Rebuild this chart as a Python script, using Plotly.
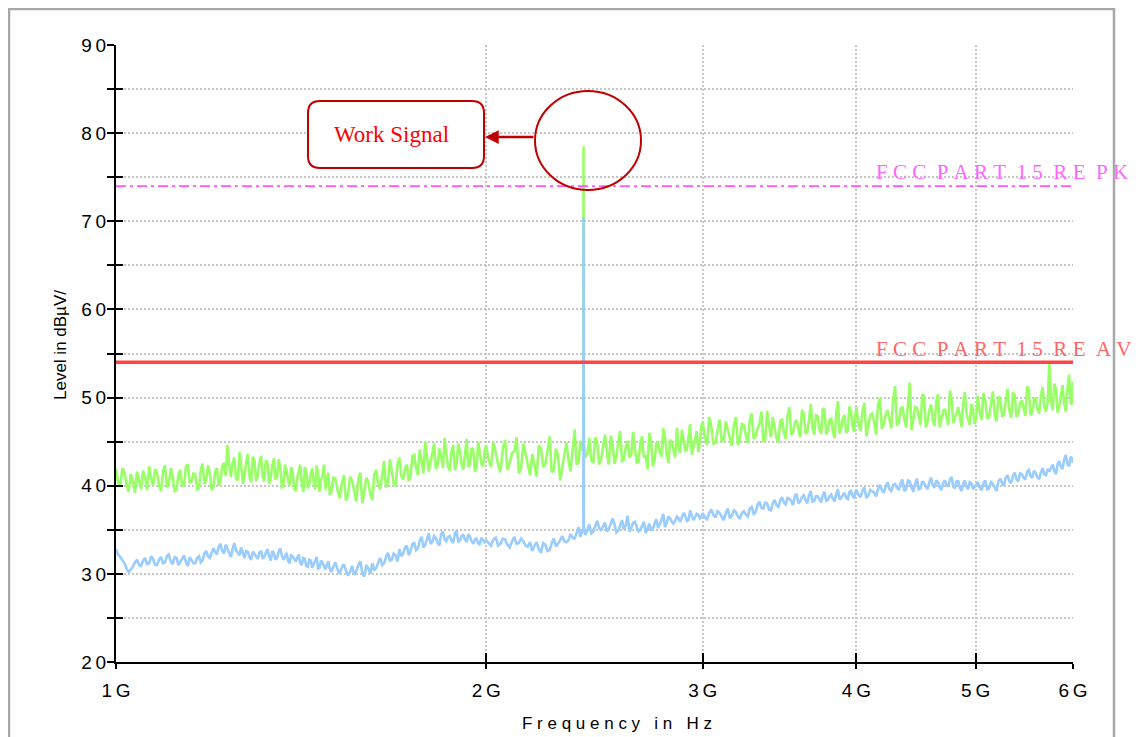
import math
import plotly.graph_objects as go

# ---------------- data (frequencies in GHz, levels in dBuV/m) ----------------
freq_a = [1.000, 1.008, 1.016, 1.024, 1.032, 1.040, 1.048, 1.056, 1.064, 1.072,
          1.080, 1.088, 1.096, 1.104, 1.112, 1.120, 1.128, 1.136, 1.144, 1.152,
          1.160, 1.168, 1.176, 1.184, 1.192, 1.200, 1.208, 1.216, 1.224, 1.232,
          1.240, 1.248, 1.256, 1.264, 1.272, 1.280, 1.288, 1.296, 1.304, 1.312,
          1.320, 1.328, 1.336, 1.344, 1.352, 1.360, 1.368, 1.376, 1.384, 1.392,
          1.400, 1.408, 1.416, 1.424, 1.432, 1.440, 1.448, 1.456, 1.464, 1.472,
          1.480, 1.488, 1.496]
freq_b = [1.508, 1.520, 1.532, 1.544, 1.556, 1.568, 1.580, 1.592, 1.604, 1.616,
          1.628, 1.640, 1.652, 1.664, 1.676, 1.688, 1.700, 1.712, 1.724, 1.736,
          1.748, 1.760, 1.772, 1.784, 1.796, 1.808, 1.820, 1.832, 1.844, 1.856,
          1.868, 1.880, 1.892, 1.904, 1.916, 1.928, 1.940, 1.952, 1.964, 1.976,
          1.988]
freq_c = [2.000, 2.018, 2.036, 2.054, 2.072, 2.090, 2.108, 2.126, 2.144, 2.162,
          2.180, 2.198, 2.216, 2.234, 2.252, 2.270, 2.288, 2.306, 2.324, 2.342,
          2.360, 2.378, 2.392, 2.399, 2.400, 2.401, 2.408, 2.426, 2.444, 2.462,
          2.480, 2.498, 2.516, 2.534, 2.552, 2.570, 2.588, 2.606, 2.624, 2.642,
          2.660, 2.678, 2.696, 2.714, 2.732, 2.750, 2.768, 2.786, 2.804, 2.822,
          2.840, 2.858, 2.876, 2.894, 2.912, 2.930, 2.948, 2.966, 2.984]
freq_d = [3.000, 3.024, 3.048, 3.072, 3.096, 3.120, 3.144, 3.168, 3.192, 3.216,
          3.240, 3.264, 3.288, 3.312, 3.336, 3.360, 3.384, 3.408, 3.432, 3.456,
          3.480, 3.504, 3.528, 3.552, 3.576, 3.600, 3.624, 3.648, 3.672, 3.696,
          3.720, 3.744, 3.768, 3.792, 3.816, 3.840, 3.864, 3.888, 3.912, 3.936,
          3.960, 3.984]
freq_e = [4.00, 4.03, 4.06, 4.09, 4.12, 4.15, 4.18, 4.21, 4.24, 4.27,
          4.30, 4.33, 4.36, 4.39, 4.42, 4.45, 4.48, 4.51, 4.54, 4.57,
          4.60, 4.63, 4.66, 4.69, 4.72, 4.75, 4.78, 4.81, 4.84, 4.87,
          4.90, 4.93, 4.96, 4.99]
freq_f = [5.020, 5.056, 5.092, 5.128, 5.164, 5.200, 5.236, 5.272, 5.308, 5.344,
          5.380, 5.416, 5.452, 5.488, 5.524, 5.560, 5.596, 5.632, 5.668, 5.704,
          5.740, 5.776, 5.812, 5.848, 5.884, 5.920, 5.956, 5.992, 6.000]

# in-between sweep points
freq_a_mid = [1.004, 1.012, 1.020, 1.028, 1.036, 1.044, 1.052, 1.060, 1.068, 1.076,
              1.084, 1.092, 1.100, 1.108, 1.116, 1.124, 1.132, 1.140, 1.148, 1.156,
              1.164, 1.172, 1.180, 1.188, 1.196, 1.204, 1.212, 1.220, 1.228, 1.236,
              1.244, 1.252, 1.260, 1.268, 1.276, 1.284, 1.292, 1.300, 1.308, 1.316,
              1.324, 1.332, 1.340, 1.348, 1.356, 1.364, 1.372, 1.380, 1.388, 1.396,
              1.404, 1.412, 1.420, 1.428, 1.436, 1.444, 1.452, 1.460, 1.468, 1.476,
              1.484, 1.492, 1.502]
freq_b_mid = [1.514, 1.526, 1.538, 1.550, 1.562, 1.574, 1.586, 1.598, 1.610, 1.622,
              1.634, 1.646, 1.658, 1.670, 1.682, 1.694, 1.706, 1.718, 1.730, 1.742,
              1.754, 1.766, 1.778, 1.790, 1.802, 1.814, 1.826, 1.838, 1.850, 1.862,
              1.874, 1.886, 1.898, 1.910, 1.922, 1.934, 1.946, 1.958, 1.970, 1.982,
              1.994]
freq_c_mid = [2.009, 2.027, 2.045, 2.063, 2.081, 2.099, 2.117, 2.135, 2.153, 2.171,
              2.189, 2.207, 2.225, 2.243, 2.261, 2.279, 2.297, 2.315, 2.333, 2.351,
              2.369, 2.385, 2.417, 2.435, 2.453, 2.471, 2.489, 2.507, 2.525, 2.543,
              2.561, 2.579, 2.597, 2.615, 2.633, 2.651, 2.669, 2.687, 2.705, 2.723,
              2.741, 2.759, 2.777, 2.795, 2.813, 2.831, 2.849, 2.867, 2.885, 2.903,
              2.921, 2.939, 2.957, 2.975, 2.992]
freq_d_mid = [3.012, 3.036, 3.060, 3.084, 3.108, 3.132, 3.156, 3.180, 3.204, 3.228,
              3.252, 3.276, 3.300, 3.324, 3.348, 3.372, 3.396, 3.420, 3.444, 3.468,
              3.492, 3.516, 3.540, 3.564, 3.588, 3.612, 3.636, 3.660, 3.684, 3.708,
              3.732, 3.756, 3.780, 3.804, 3.828, 3.852, 3.876, 3.900, 3.924, 3.948,
              3.972, 3.992]
freq_e_mid = [4.015, 4.045, 4.075, 4.105, 4.135, 4.165, 4.195, 4.225, 4.255, 4.285,
              4.315, 4.345, 4.375, 4.405, 4.435, 4.465, 4.495, 4.525, 4.555, 4.585,
              4.615, 4.645, 4.675, 4.705, 4.735, 4.765, 4.795, 4.825, 4.855, 4.885,
              4.915, 4.945, 4.975, 5.005]
freq_f_mid = [5.038, 5.074, 5.110, 5.146, 5.182, 5.218, 5.254, 5.290, 5.326, 5.362,
              5.398, 5.434, 5.470, 5.506, 5.542, 5.578, 5.614, 5.650, 5.686, 5.722,
              5.758, 5.794, 5.830, 5.866, 5.902, 5.938, 5.974, 5.996]

# peak detector trace (green)
peak_a = [41.9, 39.9, 41.5, 39.3, 40.7, 41.6, 39.6, 41.0, 42.2, 40.0,
          41.4, 39.4, 42.3, 40.2, 41.1, 39.5, 41.8, 40.1, 42.4, 40.5,
          41.3, 39.7, 42.5, 40.6, 41.5, 39.8, 42.0, 40.4, 42.6, 44.6,
          41.0, 43.2, 40.6, 42.4, 41.1, 43.6, 40.4, 42.8, 41.2, 43.4,
          40.5, 42.6, 40.9, 43.1, 41.0, 42.2, 39.9, 41.8, 40.0, 41.6,
          39.4, 41.9, 40.2, 42.1, 39.7, 41.3, 40.4, 42.3, 39.3, 41.0,
          39.6, 41.5, 39.2]
peak_b = [40.8, 38.6, 41.2, 39.0, 40.6, 38.2, 41.5, 39.3, 40.4, 38.4,
          41.8, 39.6, 42.8, 40.3, 41.6, 40.0, 43.2, 40.7, 42.4, 41.0,
          43.5, 41.2, 42.9, 45.0, 41.6, 43.8, 41.9, 44.2, 42.0, 43.6,
          41.7, 44.6, 42.3, 43.9, 41.8, 45.3, 42.4, 44.1, 42.0, 43.7,
          42.2]
peak_c = [44.6, 42.1, 43.8, 41.5, 45.2, 42.6, 43.9, 41.4, 44.8, 42.3,
          43.6, 41.0, 44.2, 42.5, 45.6, 41.8, 43.4, 42.2, 44.9, 41.6,
          46.4, 42.8, 44.0, 44.5, 78.5, 44.8, 43.2, 45.4, 42.6, 44.9,
          43.0, 45.8, 42.4, 44.6, 43.3, 46.2, 42.9, 45.1, 43.5, 44.4,
          42.7, 45.6, 43.4, 46.0, 42.2, 44.8, 43.8, 46.5, 43.6, 45.2,
          44.0, 46.6, 43.7, 45.3, 44.1, 47.0, 44.4, 46.2, 45.0]
peak_d = [47.2, 44.6, 46.8, 44.9, 47.5, 45.2, 46.4, 44.5, 47.8, 45.4,
          46.9, 44.8, 48.2, 45.6, 47.0, 45.1, 48.5, 45.5, 46.8, 44.9,
          47.6, 45.3, 48.9, 46.0, 47.4, 45.5, 48.2, 46.1, 49.3, 45.8,
          47.9, 45.9, 48.6, 46.3, 47.6, 45.4, 49.6, 46.5, 48.0, 46.2,
          48.4, 46.1]
peak_e = [48.9, 46.2, 49.4, 46.8, 48.2, 45.8, 50.0, 47.0, 48.6, 46.5,
          51.3, 47.2, 49.0, 46.6, 51.7, 47.4, 48.8, 46.9, 50.1, 47.3,
          49.2, 46.8, 50.4, 47.5, 48.7, 46.9, 49.8, 47.6, 48.9, 46.7,
          50.6, 47.4, 49.3, 47.0]
peak_f = [50.2, 47.5, 49.6, 47.8, 50.7, 47.3, 49.9, 48.0, 51.0, 47.7,
          50.3, 48.1, 49.7, 47.9, 50.8, 48.3, 50.0, 48.2, 51.2, 48.4,
          54.0, 48.6, 50.9, 49.0, 51.4, 48.4, 52.6, 49.2, 50.6]

peak_a_mid = [40.3, 42.0, 40.1, 41.3, 39.2, 40.4, 41.7, 39.5, 40.8, 41.9,
              40.0, 41.6, 39.8, 42.0, 39.4, 41.3, 39.9, 42.2, 40.3, 41.4,
              39.6, 41.8, 40.2, 42.3, 39.5, 41.6, 40.0, 42.2, 41.1, 42.4,
              42.6, 40.8, 43.8, 40.2, 42.7, 41.0, 43.3, 40.5, 42.5, 41.0,
              42.9, 40.2, 42.3, 40.7, 43.0, 39.8, 42.4, 40.6, 42.1, 39.7,
              40.9, 42.4, 39.3, 41.6, 40.1, 42.0, 39.6, 41.2, 40.8, 42.4,
              40.4, 39.1, 40.9]
peak_b_mid = [39.5, 40.2, 38.3, 41.0, 39.4, 40.7, 38.0, 40.9, 39.0, 41.3,
              40.1, 41.3, 39.8, 43.0, 40.2, 42.5, 41.1, 42.0, 40.5, 43.4,
              42.0, 44.1, 41.4, 43.0, 42.6, 44.8, 42.3, 43.3, 45.4, 42.2,
              43.9, 41.8, 44.8, 42.4, 43.6, 42.1, 44.3, 41.6, 45.0, 42.5,
              44.0]
peak_c_mid = [42.9, 44.9, 42.4, 44.2, 41.8, 43.7, 45.5, 42.0, 43.5, 41.2,
              42.4, 44.6, 42.1, 43.9, 41.5, 44.2, 40.6, 43.8, 42.9, 44.0,
              42.4, 45.1, 43.6, 42.9, 45.5, 42.4, 44.4, 43.8, 45.7, 42.5,
              45.0, 42.8, 44.4, 43.2, 46.1, 42.6, 44.9, 43.2, 41.9, 45.1,
              42.8, 44.9, 43.3, 45.6, 42.6, 45.0, 43.2, 44.5, 46.3, 43.9,
              45.6, 43.5, 45.3, 43.8, 46.8]
peak_d_mid = [45.5, 47.8, 44.7, 46.3, 45.0, 47.3, 45.6, 46.9, 44.6, 47.0,
              45.7, 47.4, 45.3, 46.5, 48.4, 45.2, 46.9, 47.8, 45.4, 47.3,
              46.1, 47.9, 45.8, 47.2, 46.4, 48.6, 45.9, 47.4, 46.6, 48.0,
              46.4, 48.8, 45.8, 47.5, 46.1, 48.3, 45.9, 47.7, 46.0, 49.0,
              46.6, 48.1]
peak_e_mid = [46.9, 48.4, 45.6, 48.0, 47.2, 49.3, 46.4, 48.1, 47.7, 49.8,
              46.8, 48.7, 47.6, 49.2, 46.3, 48.9, 47.9, 50.4, 46.6, 48.6,
              47.4, 49.6, 46.6, 48.5, 47.9, 50.8, 47.1, 48.3, 47.5, 49.4,
              48.2, 46.9, 48.6, 47.6]
peak_f_mid = [48.4, 50.5, 47.6, 49.3, 48.1, 50.1, 47.9, 49.6, 48.5, 50.6,
              47.8, 49.4, 48.8, 51.3, 48.0, 49.7, 48.6, 50.2, 48.9, 49.5,
              49.6, 51.6, 48.3, 50.2, 49.3, 51.0, 49.4, 51.8]

# average detector trace (blue)
avg_a = [32.8, 31.9, 31.2, 30.2, 30.8, 31.6, 30.9, 31.8, 31.2, 31.7,
         31.0, 31.9, 31.3, 32.2, 31.1, 31.8, 31.4, 32.1, 30.9, 31.6,
         31.2, 32.0, 31.5, 32.6, 31.8, 32.9, 32.2, 33.4, 32.3, 32.8,
         31.9, 33.5, 32.4, 33.0, 31.8, 32.5, 31.6, 32.2, 31.7, 32.6,
         31.9, 32.8, 31.5, 32.3, 31.8, 32.9, 31.6, 32.4, 31.2, 32.0,
         31.4, 32.2, 31.0, 31.7, 30.8, 31.5, 31.1, 31.9, 30.7, 31.3,
         30.5, 31.4, 30.2]
avg_b = [31.3, 30.0, 31.1, 29.8, 30.9, 30.3, 31.4, 29.7, 30.6, 31.2,
         30.7, 31.8, 31.2, 32.4, 31.6, 32.1, 32.8, 32.3, 33.2, 32.6,
         33.5, 32.9, 34.2, 33.3, 34.6, 33.6, 34.1, 33.2, 34.8, 33.7,
         34.3, 33.5, 34.9, 33.8, 34.4, 33.6, 34.2, 33.4, 34.0, 33.3,
         33.9]
avg_c = [33.8, 33.2, 34.1, 33.4, 33.9, 33.0, 34.2, 33.5, 33.7, 33.1,
         32.6, 33.6, 32.4, 33.3, 32.7, 34.0, 33.4, 34.3, 33.6, 34.5,
         34.0, 35.3, 34.6, 35.1, 70.5, 35.3, 34.4, 35.6, 34.8, 36.0,
         34.9, 35.8, 35.1, 36.3, 34.7, 35.5, 35.0, 36.6, 35.2, 35.9,
         34.8, 35.4, 34.6, 35.7, 35.1, 36.2, 35.6, 36.8, 35.8, 36.3,
         35.7, 36.5, 35.9, 36.9, 36.0, 37.2, 36.1, 36.8, 36.3]
avg_d = [36.9, 36.2, 37.3, 36.4, 36.9, 36.1, 37.4, 36.6, 37.0, 36.3,
         37.1, 36.5, 37.6, 37.0, 38.2, 37.4, 38.0, 37.2, 38.4, 37.6,
         38.7, 37.9, 38.5, 37.8, 39.1, 38.2, 38.9, 38.0, 39.4, 38.3,
         38.8, 38.1, 39.3, 38.4, 39.0, 38.2, 39.6, 38.7, 39.2, 38.5,
         39.4, 38.6]
avg_e = [39.5, 38.7, 39.8, 38.9, 39.4, 38.8, 40.1, 39.2, 40.4, 39.4,
         40.2, 39.5, 40.7, 39.6, 40.5, 39.3, 40.8, 39.7, 40.3, 39.6,
         40.9, 39.8, 40.4, 39.5, 40.6, 39.9, 41.0, 39.7, 40.5, 39.4,
         40.6, 39.6, 40.3, 39.8]
avg_f = [40.4, 39.5, 40.6, 39.7, 40.2, 39.4, 40.8, 40.0, 41.2, 40.3,
         41.5, 40.5, 41.3, 40.7, 41.8, 40.9, 41.4, 40.8, 42.0, 41.2,
         41.6, 42.4, 41.3, 42.8, 41.9, 43.5, 42.2, 43.0, 42.6]

avg_a_mid = [32.2, 31.5, 30.6, 30.5, 31.3, 31.0, 31.5, 31.1, 32.0, 31.0,
             31.6, 31.2, 32.0, 31.4, 31.9, 31.0, 31.8, 31.3, 31.9, 31.2,
             31.8, 31.3, 32.3, 32.0, 32.4, 32.5, 33.1, 32.6, 33.3, 32.2,
             32.8, 32.7, 32.1, 32.3, 32.6, 31.9, 32.5, 32.0, 32.4, 31.8,
             32.4, 32.0, 32.6, 31.6, 32.5, 32.1, 31.9, 31.5, 32.2, 31.7,
             31.9, 31.2, 31.8, 30.9, 31.6, 30.7, 31.4, 30.6, 31.5, 30.9,
             31.0, 30.6, 30.8]
avg_b_mid = [30.5, 30.7, 30.4, 30.2, 29.9, 31.0, 30.1, 31.0, 30.0, 30.4,
             31.3, 31.0, 31.9, 31.5, 32.3, 31.4, 32.0, 33.0, 32.1, 33.4,
             32.7, 33.8, 33.0, 33.9, 33.4, 34.3, 33.5, 34.5, 33.9, 34.2,
             33.8, 34.6, 33.6, 34.3, 33.9, 34.5, 33.7, 33.9, 33.5, 34.1,
             33.6]
avg_c_mid = [33.5, 33.9, 33.2, 34.0, 33.3, 33.7, 33.4, 34.0, 33.2, 33.6,
             33.2, 32.8, 33.5, 32.6, 33.5, 33.1, 33.8, 33.7, 33.8, 34.1,
             34.7, 34.2, 35.0, 34.6, 35.4, 35.2, 35.4, 34.8, 35.7, 35.6,
             34.9, 36.1, 35.5, 34.8, 35.8, 35.3, 35.0, 35.9, 35.2, 34.9,
             35.7, 35.2, 36.1, 35.3, 36.5, 35.9, 36.0, 36.3, 36.4, 36.6,
             36.1, 36.6, 36.4, 36.7, 36.5]
avg_d_mid = [36.4, 36.9, 36.7, 37.1, 36.5, 36.9, 36.3, 37.2, 36.5, 36.9,
             36.7, 37.4, 36.8, 37.8, 37.5, 38.1, 37.3, 38.0, 37.8, 38.3,
             38.1, 38.6, 38.3, 38.8, 38.0, 38.7, 38.4, 38.9, 38.2, 38.8,
             38.5, 38.9, 38.3, 38.8, 38.5, 39.1, 38.4, 39.0, 38.6, 39.3,
             38.8, 39.3]
avg_e_mid = [39.0, 39.4, 38.6, 39.5, 39.2, 39.6, 39.5, 39.9, 39.6, 40.1,
             39.8, 40.3, 39.4, 40.6, 39.8, 40.2, 39.6, 40.5, 39.9, 40.4,
             40.0, 40.6, 39.8, 40.3, 40.1, 40.7, 39.9, 40.5, 39.7, 40.2,
             39.9, 40.4, 39.6, 40.1]
avg_f_mid = [39.8, 40.3, 39.6, 40.4, 39.8, 40.5, 40.3, 40.9, 40.5, 41.1,
             40.7, 41.4, 40.9, 41.6, 41.1, 41.7, 40.9, 41.5, 41.3, 41.9,
             42.0, 41.7, 42.5, 42.1, 43.0, 42.5, 43.3, 42.9]

limit_av = 54
limit_pk = 74
limit_x = [1.0, 6.0]

y_ticks = [20, 25, 30, 35, 40, 45, 50, 55, 60, 65, 70, 75, 80, 85, 90]
y_tick_labels = ["20", "", "30", "", "40", "", "50", "", "60", "", "70", "", "80", "", "90"]
x_ticks = [1, 2, 3, 4, 5, 6]
x_tick_labels = ["1G", "2G", "3G", "4G", "5G", "6G"]

label_pk = ["FCC", "PART", "15", "RE", "PK"]
label_av = ["FCC", "PART", "15", "RE", "AV"]
signal_label = "Work Signal"
x_title = ["Frequency", "in", "Hz"]
y_title = "Level in dBµV/"

# ---------------- assemble ----------------
def merge(fs, vs):
    pts = []
    for f_list, v_list in zip(fs, vs):
        pts.extend(zip(f_list, v_list))
    pts.sort(key=lambda p: p[0])
    return [p[0] for p in pts], [p[1] for p in pts]

all_freqs = [freq_a, freq_b, freq_c, freq_d, freq_e, freq_f,
             freq_a_mid, freq_b_mid, freq_c_mid, freq_d_mid, freq_e_mid, freq_f_mid]
pk_x, pk_y = merge(all_freqs,
                   [peak_a, peak_b, peak_c, peak_d, peak_e, peak_f,
                    peak_a_mid, peak_b_mid, peak_c_mid, peak_d_mid, peak_e_mid, peak_f_mid])
av_x, av_y = merge(all_freqs,
                   [avg_a, avg_b, avg_c, avg_d, avg_e, avg_f,
                    avg_a_mid, avg_b_mid, avg_c_mid, avg_d_mid, avg_e_mid, avg_f_mid])

NB = "\u00a0"
THIN = "\u2009"

def spaced_words(words, gap):
    return (NB * gap).join(NB.join(list(w)) for w in words)

W, H = 1139, 737
OFF = 8                               # page body margin of the html
L, R, T, B = 116, 1073, 45, 662       # plot-area pixel box (page coords)

def px(xp):
    return (xp - L) / (R - L)

def py(yp):
    return (B - yp) / (B - T)

FONT = "Liberation Sans, Arial, sans-serif"
SERIF = "Liberation Serif, Times New Roman, serif"
GRID = dict(showgrid=True, gridcolor="#C6C6C6", gridwidth=1.5, griddash="2px,2px")

fig = go.Figure()
fig.add_trace(go.Scatter(x=pk_x, y=pk_y, mode="lines",
                         line=dict(color="#99FF66", width=2.6), hoverinfo="skip"))
fig.add_trace(go.Scatter(x=av_x, y=av_y, mode="lines",
                         line=dict(color="#99CCFF", width=2.6), hoverinfo="skip"))
fig.add_trace(go.Scatter(x=limit_x, y=[limit_av, limit_av], mode="lines", xaxis="x2", yaxis="y2",
                         line=dict(color="#FF4444", width=3.5), hoverinfo="skip"))
fig.add_trace(go.Scatter(x=limit_x, y=[limit_pk, limit_pk], mode="lines", xaxis="x2", yaxis="y2",
                         line=dict(color="#FF55FF", width=1.8, dash="10px,4px,3px,4px"),
                         hoverinfo="skip"))

xr = [0, math.log10(6)]
yr = [20, 90]
common_x = dict(type="log", range=xr, tickvals=x_ticks)
common_y = dict(range=yr, tickvals=y_ticks)

fig.update_layout(
    width=W, height=H,
    margin=dict(l=L - OFF, r=W - R + OFF, t=T - OFF, b=H - B + OFF, pad=0),
    paper_bgcolor="white", plot_bgcolor="white",
    showlegend=False,
    xaxis=dict(**common_x, **GRID, ticktext=[THIN.join(list(t)) for t in x_tick_labels],
               ticks="outside", ticklen=5, tickwidth=2, tickcolor="black",
               showline=True, linecolor="black", linewidth=2,
               zeroline=False, ticklabelstandoff=5,
               tickfont=dict(family=FONT, size=19, color="black")),
    yaxis=dict(**common_y, **GRID, ticktext=[THIN.join(list(t)) for t in y_tick_labels],
               ticks="outside", ticklen=7, tickwidth=2, tickcolor="black",
               showline=True, linecolor="black", linewidth=2,
               zeroline=False, ticklabelstandoff=-3,
               tickfont=dict(family=FONT, size=19, color="black")),
    xaxis2=dict(**common_x, overlaying="x", side="bottom", ticks="inside", ticklen=9,
                tickwidth=2, tickcolor="black", showticklabels=False, showgrid=False,
                showline=False, zeroline=False),
    yaxis2=dict(**common_y, overlaying="y", side="left", ticks="inside", ticklen=7,
                tickwidth=2, tickcolor="black", showticklabels=False, showgrid=False,
                showline=False, zeroline=False),
)

# axis titles
fig.add_annotation(xref="paper", yref="paper", x=px(617), y=py(723), xanchor="center",
                   yanchor="middle", text=spaced_words(x_title, 3), showarrow=False,
                   font=dict(family=FONT, size=17, color="black"))
fig.add_annotation(xref="paper", yref="paper", x=px(60), y=py(345), xanchor="center",
                   yanchor="middle", text=y_title, textangle=-90, showarrow=False,
                   font=dict(family=FONT, size=17, color="black"))

# outer frame
fig.add_shape(type="rect", xref="paper", yref="paper",
              x0=px(9), x1=px(1114), y0=py(760), y1=py(9),
              line=dict(color="#A8A8A8", width=2.5), fillcolor="rgba(0,0,0,0)", layer="above")

# rounded "Work Signal" box
bx0, bx1, by0, by1 = px(308), px(484), py(168), py(101)
rx, ry = 12 / (R - L), 12 / (B - T)
path = (f"M {bx0+rx},{by0} L {bx1-rx},{by0} Q {bx1},{by0} {bx1},{by0+ry} "
        f"L {bx1},{by1-ry} Q {bx1},{by1} {bx1-rx},{by1} "
        f"L {bx0+rx},{by1} Q {bx0},{by1} {bx0},{by1-ry} "
        f"L {bx0},{by0+ry} Q {bx0},{by0} {bx0+rx},{by0} Z")
fig.add_shape(type="path", xref="paper", yref="paper", path=path,
              line=dict(color="#C00000", width=2), fillcolor="white")
fig.add_annotation(xref="paper", yref="paper", x=px(391), y=py(135), xanchor="center",
                   yanchor="middle", text=signal_label, showarrow=False,
                   font=dict(family=SERIF, size=23, color="#FF0000"))

# ellipse around the signal
fig.add_shape(type="circle", xref="paper", yref="paper",
              x0=px(535), x1=px(641), y0=py(190), y1=py(91),
              line=dict(color="#C00000", width=2), fillcolor="rgba(0,0,0,0)")

# arrow
fig.add_annotation(xref="paper", yref="paper", x=px(485), y=py(137), text="",
                   showarrow=True, ax=50, ay=0, arrowhead=2, arrowsize=1.1,
                   arrowwidth=2.5, arrowcolor="#C00000")

# limit labels
fig.add_annotation(xref="paper", yref="paper", x=px(874), y=py(172), xanchor="left",
                   yanchor="middle", text=spaced_words(label_pk, 2), showarrow=False,
                   font=dict(family=SERIF, size=21, color="#FF66FF"))
fig.add_annotation(xref="paper", yref="paper", x=px(874), y=py(349), xanchor="left",
                   yanchor="middle", text=spaced_words(label_av, 2), showarrow=False,
                   font=dict(family=SERIF, size=21, color="#FF6666"))

fig.write_html("out.html")
